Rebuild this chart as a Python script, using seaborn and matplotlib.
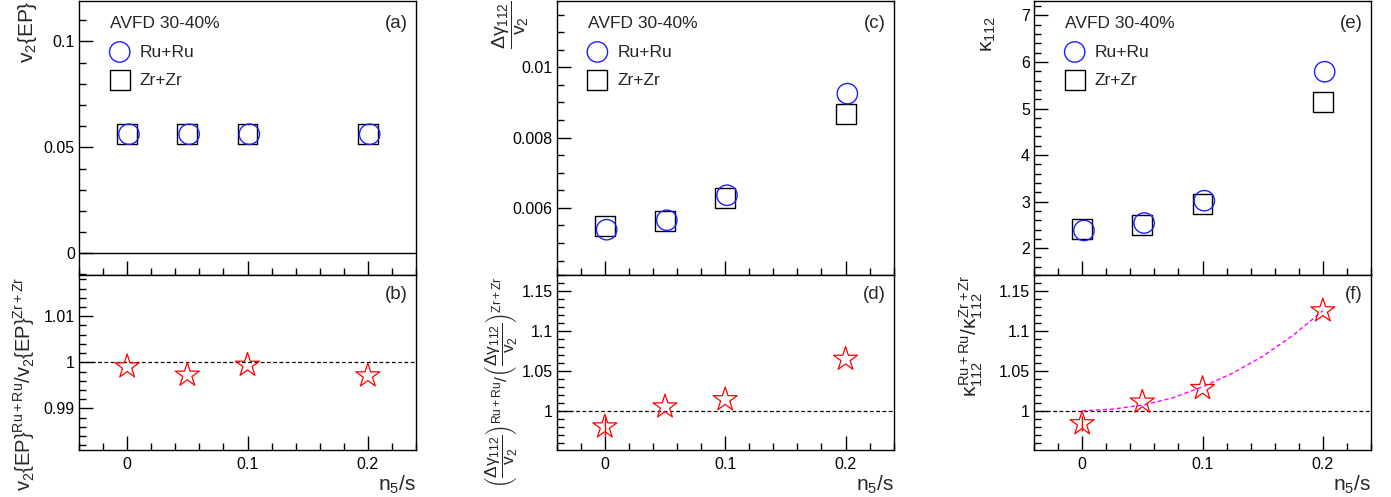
import numpy as np
import pandas as pd
import matplotlib
matplotlib.use("Agg")
import matplotlib.pyplot as plt
import seaborn as sns
from matplotlib.ticker import MultipleLocator, FuncFormatter

sns.set_theme(style="ticks")
plt.rcParams["font.family"] = ["Liberation Sans", "DejaVu Sans"]
plt.rcParams["mathtext.fontset"] = "custom"
plt.rcParams["mathtext.rm"] = "Liberation Sans"
plt.rcParams["mathtext.it"] = "Liberation Sans"
plt.rcParams["mathtext.bf"] = "Liberation Sans:bold"

# data
n5s = [0.0, 0.05, 0.1, 0.2]
v2_ru = [0.0562, 0.0562, 0.0562, 0.0562]
v2_zr = [0.0562, 0.0562, 0.0562, 0.0562]
v2_ratio = [0.99905, 0.99725, 0.9994, 0.9971]
dg_ru = [0.00538, 0.00565, 0.00636, 0.00925]
dg_zr = [0.00549, 0.00563, 0.00627, 0.00868]
dg_ratio = [0.980, 1.005, 1.014, 1.0645]
dg_ratio_err = [0.012, 0.0, 0.0, 0.0]
kap_ru = [2.38, 2.54, 3.02, 5.79]
kap_zr = [2.41, 2.50, 2.95, 5.14]
kap_ratio = [0.984, 1.011, 1.028, 1.125]
kap_ratio_err = [0.009, 0.0, 0.0, 0.0]
fit_x = [0.0, 0.025, 0.05, 0.075, 0.1, 0.125, 0.15, 0.175, 0.2]
fit_y = [1.0, 1.002, 1.007, 1.016, 1.030, 1.047, 1.068, 1.094, 1.125]

shift = 0.0015  # circles drawn slightly right of the squares

W, H = 1391, 497
fig = plt.figure(figsize=(W / 100, H / 100), dpi=100)

lefts = [79, 556.7, 1034]
width = 337
top_y, mid_y, bot_y = 0.5, 274.7, 450


def frac_box(left, y0, y1):
    return [left / W, 1 - y1 / H, width / W, (y1 - y0) / H]


def fmt_tick(v, pos=None):
    s = f"{v:.4f}".rstrip("0").rstrip(".")
    return "0" if s in ("-0", "0") else s


def style_axes(ax, ymajor, yminor, show_x):
    ax.set_xlim(-0.04, 0.24)
    ax.xaxis.set_major_locator(MultipleLocator(0.1))
    ax.xaxis.set_minor_locator(MultipleLocator(0.02))
    ax.yaxis.set_major_locator(MultipleLocator(ymajor))
    ax.yaxis.set_minor_locator(MultipleLocator(yminor))
    ax.xaxis.set_major_formatter(FuncFormatter(fmt_tick))
    ax.yaxis.set_major_formatter(FuncFormatter(fmt_tick))
    ax.tick_params(which="both", direction="in", top=False, right=False,
                   width=1, colors="black", labelsize=11.5)
    ax.tick_params(which="major", length=10, pad=3)
    ax.tick_params(which="minor", length=5)
    ax.tick_params(axis="x", pad=5)
    if not show_x:
        ax.tick_params(axis="x", labelbottom=False)
    for s in ax.spines.values():
        s.set_visible(True)
        s.set_linewidth(1)
        s.set_color("black")
    ax.set_facecolor("white")
    ax.set_xlabel("")
    ax.set_ylabel("")


def top_panel(ax, ru, zr, tag, legend_pos):
    sns.scatterplot(x=n5s, y=zr, marker="s", s=205, facecolor="none",
                    edgecolor="black", linewidth=1, ax=ax, label="Zr+Zr", zorder=3)
    sns.scatterplot(x=[x + shift for x in n5s], y=ru, marker="o", s=215,
                    facecolor="none", edgecolor="#1f1fff", linewidth=1, ax=ax,
                    label="Ru+Ru", zorder=4)
    h, l = ax.get_legend_handles_labels()
    ax.legend([h[1], h[0]], [l[1], l[0]], loc="upper left", bbox_to_anchor=legend_pos,
              frameon=False, fontsize=12.5, handlelength=1.0, handletextpad=0.65,
              labelspacing=0.75, borderaxespad=0, borderpad=0)
    ax.text(0.092, 0.915, "AVFD 30-40%", transform=ax.transAxes, fontsize=12.5,
            ha="left", va="center")
    ax.text(0.975, 0.915, tag, transform=ax.transAxes, fontsize=13.5,
            ha="right", va="center")


def bottom_panel(ax, ratio, tag, err=None):
    ax.axhline(1.0, color="black", lw=0.9, ls=(0, (3, 2)), zorder=1)
    if err is not None:
        ax.errorbar(n5s, ratio, yerr=err, fmt="none", ecolor="red", elinewidth=1,
                    capsize=0, zorder=2)
    sns.scatterplot(x=n5s, y=ratio, marker="*", s=330, facecolor="none",
                    edgecolor="red", linewidth=0.9, ax=ax, zorder=3, legend=False)
    ax.text(0.975, 0.885, tag, transform=ax.transAxes, fontsize=13.5,
            ha="right", va="center")


axes = []
for i in range(3):
    at = fig.add_axes(frac_box(lefts[i], top_y, mid_y))
    ab = fig.add_axes(frac_box(lefts[i], mid_y, bot_y), sharex=at)
    axes.append((at, ab))

xlab = r"$n_{5}/s$"
leg_pos = (0.095, 0.84)

# (a) / (b)
at, ab = axes[0]
at.axhline(0, color="black", lw=1, zorder=1)
top_panel(at, v2_ru, v2_zr, "(a)", leg_pos)
style_axes(at, 0.05, 0.01, False)
at.set_ylim(-0.0101, 0.1193)
at.set_ylabel(r"$v_{2}\{EP\}$", fontsize=15, loc="top")
at.yaxis.set_label_coords(-0.12, 1.0)

bottom_panel(ab, v2_ratio, "(b)")
style_axes(ab, 0.01, 0.002, True)
ab.set_ylim(0.981, 1.019)
ab.set_xlabel(xlab, fontsize=15, loc="right", labelpad=1)
ab.set_ylabel(r"$v_{2}\{EP\}^{Ru+Ru}/v_{2}\{EP\}^{Zr+Zr}$", fontsize=14.5, loc="top")
ab.yaxis.set_label_coords(-0.125, 0.99)

# (c) / (d)
at, ab = axes[1]
top_panel(at, dg_ru, dg_zr, "(c)", leg_pos)
style_axes(at, 0.002, 0.0005, False)
at.set_ylim(0.0041, 0.0119)
at.set_ylabel(r"$\dfrac{\Delta\gamma_{112}}{v_{2}}$", fontsize=14, loc="top")
at.yaxis.set_label_coords(-0.075, 1.0)

bottom_panel(ab, dg_ratio, "(d)", dg_ratio_err)
style_axes(ab, 0.05, 0.01, True)
ab.set_ylim(0.951, 1.17)
ab.set_xlabel(xlab, fontsize=15, loc="right", labelpad=1)
ab.set_ylabel(r"$\left(\dfrac{\Delta\gamma_{112}}{v_{2}}\right)^{Ru+Ru}/"
              r"\left(\dfrac{\Delta\gamma_{112}}{v_{2}}\right)^{Zr+Zr}$",
              fontsize=12.5, loc="top")
ab.yaxis.set_label_coords(-0.108, 0.99)

# (e) / (f)
at, ab = axes[2]
top_panel(at, kap_ru, kap_zr, "(e)", leg_pos)
style_axes(at, 1, 0.2, False)
at.set_ylim(1.43, 7.32)
at.set_ylabel(r"$\kappa_{112}$", fontsize=15, loc="top")
at.yaxis.set_label_coords(-0.107, 0.945)

bottom_panel(ab, kap_ratio, "(f)", kap_ratio_err)
sns.lineplot(x=fit_x, y=fit_y, color="#ff00ff", lw=1, ls=(0, (3, 2)), ax=ab, zorder=2)
style_axes(ab, 0.05, 0.01, True)
ab.set_ylim(0.951, 1.17)
ab.set_xlabel(xlab, fontsize=15, loc="right", labelpad=1)
ab.set_ylabel(r"$\kappa_{112}^{Ru+Ru}/\kappa_{112}^{Zr+Zr}$", fontsize=15, loc="top")
ab.yaxis.set_label_coords(-0.146, 1.0)

fig.savefig("out.png", dpi=100, facecolor="white")
